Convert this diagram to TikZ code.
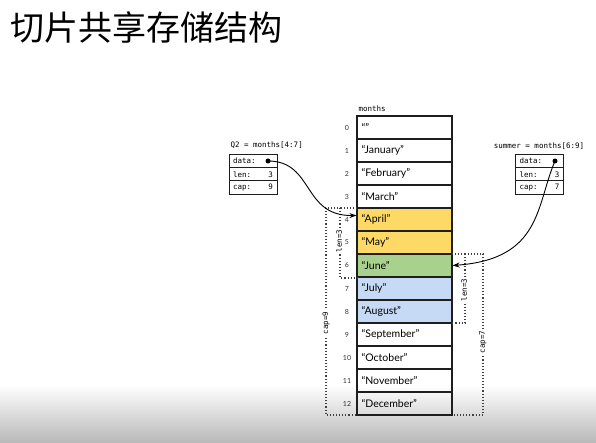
\documentclass[tikz,border=0pt]{standalone}
\usepackage{fontspec}
\setmainfont{Lato}
\setmonofont{DejaVu Sans Mono}
\newfontfamily\cjk{Noto Sans CJK SC}
\usetikzlibrary{arrows.meta, positioning}
\definecolor{aprilyellow}{RGB}{255, 217, 102}
\definecolor{junegreen}{RGB}{169, 209, 142}
\definecolor{julyblue}{RGB}{198, 217, 245}
\definecolor{celline}{RGB}{30, 30, 30}

\begin{document}
\begin{tikzpicture}[x=1pt, y=-1pt,
    cell/.style={rectangle, draw=celline, line width=1.1pt, minimum width=95pt, minimum height=23pt, text width=86pt, inner xsep=4.5pt, align=left, font=\fontsize{10.5}{12}\selectfont},
    idx/.style={font=\fontsize{7}{8}\selectfont, text=black!80},
    field/.style={rectangle, draw=celline, line width=0.9pt, minimum width=48pt, minimum height=13.3pt, text width=40pt, inner xsep=4pt, font=\ttfamily\fontsize{7.5}{9}\selectfont},
    code/.style={font=\ttfamily\fontsize{7.5}{9}\selectfont},
    bound/.style={dotted, line width=1.1pt, black!75},
    blbl/.style={font=\ttfamily\fontsize{7.5}{8}\selectfont, fill=white, rotate=90, inner sep=1.5pt},
    dot/.style={circle, fill=black, inner sep=0pt, minimum size=5pt},
    arr/.style={-{Stealth[length=7pt, width=5pt]}, line width=0.9pt}
]
\useasboundingbox (0,0) rectangle (596,443);

% ── Background fade ──
\shade[top color=white, bottom color=black!28] (0,385) rectangle (596,443);

% ── Title ──
\node[anchor=west, inner sep=0pt, font=\cjk\fontsize{34}{34}\selectfont] (title) at (10,27) {切片共享存储结构};

% ── Array ──
\node[code, anchor=west] (mlbl) at (355,109) {months};

\node[cell] (m0) at (404.5,127.5) {“”};
\node[cell] (m1) at (404.5,150.5) {“January”};
\node[cell] (m2) at (404.5,173.5) {“February”};
\node[cell] (m3) at (404.5,196.5) {“March”};
\node[cell, fill=aprilyellow] (m4) at (404.5,219.5) {“April”};
\node[cell, fill=aprilyellow] (m5) at (404.5,242.5) {“May”};
\node[cell, fill=junegreen] (m6) at (404.5,265.5) {“June”};
\node[cell, fill=julyblue] (m7) at (404.5,288.5) {“July”};
\node[cell, fill=julyblue] (m8) at (404.5,311.5) {“August”};
\node[cell] (m9) at (404.5,334.5) {“September”};
\node[cell] (m10) at (404.5,357.5) {“October”};
\node[cell] (m11) at (404.5,380.5) {“November”};
\node[cell] (m12) at (404.5,403.5) {“December”};

% Indices
\node[idx] (i0) at (347,127.5) {0};
\node[idx] (i1) at (347,150.5) {1};
\node[idx] (i2) at (347,173.5) {2};
\node[idx] (i3) at (347,196.5) {3};
\node[idx] (i4) at (347,219.5) {4};
\node[idx] (i5) at (347,242.5) {5};
\node[idx] (i6) at (347,265.5) {6};
\node[idx] (i7) at (347,288.5) {7};
\node[idx] (i8) at (347,311.5) {8};
\node[idx] (i9) at (347,334.5) {9};
\node[idx] (i10) at (347,357.5) {10};
\node[idx] (i11) at (347,380.5) {11};
\node[idx] (i12) at (347,403.5) {12};

% ── Left: Q2 slice header ──
\node[code, anchor=west] (qlbl) at (227,145) {Q2 = months[4:7]};
\node[field] (qdata) at (253,161) {data:};
\node[field] (qlen) at (253,174.3) {len:\hfill 3};
\node[field] (qcap) at (253,187.6) {cap:\hfill 9};
\node[dot] (qdot) at (268,161) {};

% Q2 bounds
\draw[bound] (357,208) -- (326,208) -- (326,415) -- (357,415);
\draw[bound] (340,208) -- (340,278) -- (357,278);
\node[blbl] (qlenlbl) at (339,241) {len=3};
\node[blbl] (qcaplbl) at (326,323) {cap=9};

% ── Right: summer slice header ──
\node[code] (slbl) at (539,146) {summer = months[6:9]};
\node[field] (sdata) at (539.5,161) {data:};
\node[field] (slen) at (539.5,174.3) {len:\hfill 3};
\node[field] (scap) at (539.5,187.6) {cap:\hfill 7};
\node[dot] (sdot) at (555,161) {};

% summer bounds
\draw[bound] (452,254) -- (483,254) -- (483,415) -- (452,415);
\draw[bound] (465,254) -- (465,323) -- (452,323);
\node[blbl] (slenlbl) at (464,290) {len=3};
\node[blbl] (scaplbl) at (483,342) {cap=7};

% ── Pointers ──
\draw[arr] (qdot.center) .. controls (314,161) and (302,216) .. ([yshift=4pt]m4.west);
\draw[arr] (sdot.center) .. controls (536,205) and (542,259) .. (m6.east);

\end{tikzpicture}
\end{document}
